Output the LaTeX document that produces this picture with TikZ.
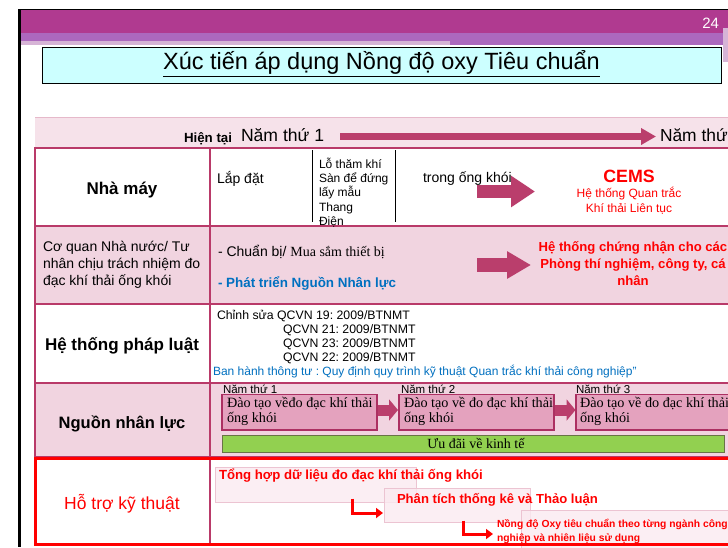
\documentclass[tikz,border=0pt]{standalone}
\usepackage{fontspec}
\setmainfont{Liberation Sans}
\newfontfamily\tnr{Liberation Serif}
\usetikzlibrary{arrows.meta}
\frenchspacing
\definecolor{hdrmag}{RGB}{176,58,144}
\definecolor{hdrpur}{RGB}{172,104,190}
\definecolor{hdrlt}{RGB}{214,180,214}
\definecolor{titlecyan}{RGB}{204,255,255}
\definecolor{tblmag}{RGB}{185,58,105}
\definecolor{arrmag}{RGB}{186,62,108}
\definecolor{patpink}{RGB}{241,212,224}
\definecolor{bandpink}{RGB}{246,226,234}
\definecolor{bandedge}{RGB}{230,185,202}
\definecolor{boxpink}{RGB}{228,162,190}
\definecolor{boxedge}{RGB}{172,48,98}
\definecolor{grn}{RGB}{146,208,80}
\definecolor{grnedge}{RGB}{105,115,70}
\definecolor{txtblue}{RGB}{0,112,192}
\definecolor{txtred}{RGB}{255,0,0}
\definecolor{faintedge}{RGB}{236,196,210}
\definecolor{faintfill}{RGB}{250,234,240}
\newcommand\fs[2]{\fontsize{#1}{#2}\selectfont\frenchspacing}
\begin{document}
\begin{tikzpicture}[x=1pt,y=-1pt,
  txt/.style={inner sep=0pt, outer sep=0pt},
  tl/.style={txt, anchor=base west},
  tc/.style={txt, anchor=base},
  rowhead/.style={tc, font=\fs{17}{20}\bfseries},
  tblline/.style={draw=tblmag, line width=2.5pt},
  patrow/.style={fill=patpink},
  yrbox/.style={draw=boxedge, fill=boxpink, line width=1.2pt},
  yrlabel/.style={tl, font=\fs{11.5}{13}},
  yrtext/.style={txt, anchor=north west, align=left, font=\tnr\fs{14.2}{15.5}},
  faintbox/.style={draw=faintedge, fill=faintfill, fill opacity=0.8, line width=1pt},
  redbold/.style={tl, text=txtred, font=\fs{13.2}{15}\bfseries},
  blockarrow/.style n args={3}{draw=arrmag, line width=#1, -{Triangle[width=#2, length=#3]}},
  elbow/.style={draw=txtred, line width=3pt, -{Triangle[width=10pt, length=7pt]}}
]
\useasboundingbox (0,0) rectangle (728,547);
\clip (0,0) rectangle (728,547);
\fill[white] (0,0) rectangle (728,547);

% header bands
\fill[hdrmag] (20,10) rectangle (728,33);
\fill[hdrpur] (20,33) rectangle (728,45);
\fill[hdrlt] (20,41) rectangle (450,45);
\fill[black] (18,8.5) rectangle (728,10);
\fill[black] (17.5,8.5) rectangle (20.5,547);
\fill[hdrlt] (723,28) rectangle (728,62);
\node[txt, anchor=base east, text=white, font=\fs{15}{18}] (pagenum) at (719,28) {24};

% title
\node[draw=black, line width=0.8pt, fill=titlecyan, minimum width=679pt, minimum height=36pt, inner sep=0pt] (titlebox) at (381.5,65) {};
\node[txt, font=\fs{23.5}{26}] (title) at (381.5,63.5) {\underline{Xúc tiến áp dụng Nồng độ oxy Tiêu chuẩn}};

% timeline band
\fill[bandpink] (35,117) rectangle (728,147);
\draw[bandedge, line width=1pt] (35,117.5) -- (728,117.5);
\node[tl, font=\fs{13.3}{15}\bfseries] (now) at (184,142.5) {Hiện tại};
\node[tl, font=\fs{17.6}{20}] (yr1) at (241,141) {Năm thứ 1};
\node[tl, font=\fs{17.4}{20}] (yrn) at (660,141) {Năm thứ};
\coordinate (tlA) at (340,136.5);
\coordinate (tlB) at (656,136.5);
\draw[blockarrow={7pt}{16pt}{15pt}] (tlA) -- (tlB);

% pattern rows
\fill[patrow] (35,226) rectangle (728,304);
\fill[patrow] (35,383) rectangle (728,457);

% table lines
\draw[tblline] (35,148) -- (728,148);
\draw[tblline] (35,226) -- (728,226);
\draw[tblline] (35,304) -- (728,304);
\draw[tblline] (35,383) -- (728,383);
\draw[tblline] (35,457) -- (728,457);
\draw[tblline] (35,147) -- (35,458);
\draw[tblline] (210,147) -- (210,458);
\draw[draw=tblmag, line width=1.5pt] (210,458) -- (210,544);
\draw[black, line width=1pt] (312,150) -- (312,222);
\draw[black, line width=1pt] (395,150) -- (395,222);

% row 1
\node[rowhead] (r1h) at (122,194) {Nhà máy};
\node[tl, font=\fs{14}{16}] (install) at (217,183) {Lắp đặt};
\node[txt, anchor=west, align=left, font=\fs{12}{14.3}] (items) at (319,192.5) {Lỗ thăm khí\\Sàn để đứng\\lấy mẫu\\Thang\\Điện};
\node[tl, font=\fs{14}{16}] (chimney) at (423,182.5) {trong ống khói};
\coordinate (a1s) at (477,191.5);
\coordinate (a1e) at (535,191.5);
\draw[blockarrow={13pt}{30pt}{24pt}] (a1s) -- (a1e);
\node[tc, text=txtred, font=\fs{17.8}{20}\bfseries] (cems) at (629,182.5) {CEMS};
\node[tc, text=txtred, font=\fs{12}{14}] (cems1) at (629,197.5) {Hệ thống Quan trắc};
\node[tc, text=txtred, font=\fs{12}{14}] (cems2) at (629,212.5) {Khí thải Liên tục};

% row 2
\node[txt, anchor=west, align=left, font=\fs{14}{17}] (r2h) at (43,265) {Cơ quan Nhà nước/ Tư\\nhân chịu trách nhiệm đo\\đạc khí thải ống khói};
\node[tl, font=\fs{14}{16}] (prep) at (218,256.5) {- Chuẩn bị/ {\tnr Mua sắm thiết bị}};
\node[tl, text=txtblue, font=\fs{13.4}{16}\bfseries] (hr) at (218,287) {- Phát triển Nguồn Nhân lực};
\coordinate (a2s) at (477,265);
\coordinate (a2e) at (531,265);
\draw[blockarrow={14pt}{26pt}{24pt}] (a2s) -- (a2e);
\node[txt, anchor=center, align=center, text=txtred, font=\fs{13.1}{17}\bfseries] (cert) at (633,264) {Hệ thống chứng nhận cho các\\Phòng thí nghiệm, công ty, cá\\nhân};

% row 3
\node[rowhead] (r3h) at (122,350) {Hệ thống pháp luật};
\node[tl, font=\fs{12.3}{14}] (q19) at (217,319.5) {Chỉnh sửa QCVN 19: 2009/BTNMT};
\node[tl, font=\fs{12.3}{14}] (q21) at (283,333.5) {QCVN 21: 2009/BTNMT};
\node[tl, font=\fs{12.3}{14}] (q23) at (283,347.5) {QCVN 23: 2009/BTNMT};
\node[tl, font=\fs{12.3}{14}] (q22) at (283,361.5) {QCVN 22: 2009/BTNMT};
\node[tl, text=txtblue, font=\fs{12}{14}] (circ) at (213,375.5) {Ban hành thông tư : Quy định quy trình kỹ thuật Quan trắc khí thải công nghiệp”};

% row 4
\node[rowhead, font=\fs{16.5}{19}\bfseries] (r4h) at (122,428) {Nguồn nhân lực};
\node[yrlabel] (y1l) at (223,393) {Năm thứ 1};
\node[yrlabel] (y2l) at (401,393) {Năm thứ 2};
\node[yrlabel] (y3l) at (576,393) {Năm thứ 3};
\draw[yrbox] (222,394.5) rectangle (377,430);
\draw[yrbox] (399,394.5) rectangle (554,430);
\draw[yrbox] (576,394.5) rectangle (740,430);
\node[yrtext] (t1) at (227,397) {Đào tạo vềđo đạc khí thải\\ống khói};
\node[yrtext] (t2) at (404,397) {Đào tạo về đo đạc khí thải\\ống khói};
\node[yrtext] (t3) at (580,397) {Đào tạo về đo đạc khí thải\\ống khói};
\coordinate (b1s) at (378,410);
\coordinate (b1e) at (398,410);
\draw[blockarrow={11pt}{21pt}{9pt}] (b1s) -- (b1e);
\coordinate (b2s) at (555,410);
\coordinate (b2e) at (575.5,410);
\draw[blockarrow={11pt}{21pt}{9pt}] (b2s) -- (b2e);
\draw[draw=grnedge, fill=grn, line width=1pt] (222.5,435) rectangle (724,452);
\node[tc, font=\tnr\fs{14}{16}] (incent) at (476,448.5) {Ưu đãi về kinh tế};

% row 5
\draw[faintbox] (215,467) rectangle (416,502);
\draw[faintbox] (384,488) rectangle (530,522);
\draw[faintbox] (521,510) rectangle (740,550);
\draw[draw=txtred, line width=3pt] (35,458.5) rectangle (740,544);
\node[tc, text=txtred, font=\fs{17.5}{20}] (r5h) at (122,509) {Hỗ trợ kỹ thuật};
\node[redbold] (s1) at (219,479.5) {Tổng hợp dữ liệu đo đạc khí thải ống khói};
\node[redbold, font=\fs{13.1}{15}\bfseries] (s2) at (397,503.5) {Phân tích thống kê và Thảo luận};
\node[redbold, font=\fs{10.3}{14}\bfseries] (s3a) at (497,527) {Nồng độ Oxy tiêu chuẩn theo từng ngành công};
\node[redbold, font=\fs{10.3}{14}\bfseries] (s3b) at (497,541) {nghiệp và nhiên liệu sử dụng};
\coordinate (e1s) at (352,498.5);
\coordinate (e1e) at (383,513);
\draw[elbow] (e1s) |- (e1e);
\coordinate (e2s) at (463,520.5);
\coordinate (e2e) at (493,534);
\draw[elbow] (e2s) |- (e2e);
\end{tikzpicture}
\end{document}
